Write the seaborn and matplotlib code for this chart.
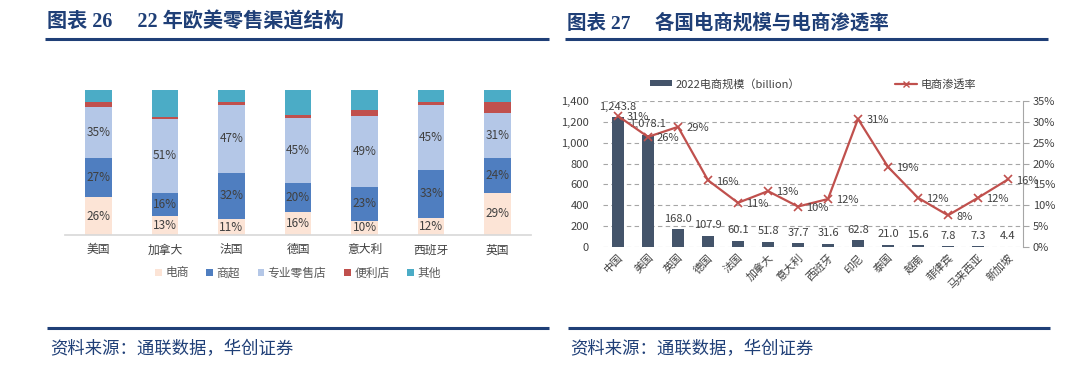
import matplotlib
matplotlib.use("Agg")
import matplotlib.pyplot as plt
import numpy as np
import pandas as pd
import seaborn as sns
from matplotlib.lines import Line2D
from matplotlib.patches import Patch
from matplotlib.ticker import FuncFormatter


# left chart: retail channel mix (%), bottom to top
CHANNEL_COUNTRIES = ["美国", "加拿大", "法国", "德国", "意大利", "西班牙", "英国"]
ECOMMERCE = [26, 13, 11, 16, 10, 12, 29]
SUPERMARKET = [27, 16, 32, 20, 23, 33, 24]
SPECIALTY = [35, 51, 47, 45, 49, 45, 31]
CONVENIENCE = [4, 1.5, 2, 2, 4, 2, 8]
OTHER = [8, 18.5, 8, 17, 14, 8, 8]
CHANNEL_NAMES = ["电商", "商超", "专业零售店", "便利店", "其他"]
CHANNEL_COLORS = ["#FCE4D6", "#4F7EC0", "#B4C7E7", "#C0504D", "#4BACC6"]
LABELLED_CHANNELS = ["电商", "商超", "专业零售店"]

# right chart: e-commerce size (billion) and penetration (%)
MARKETS = ["中国", "美国", "英国", "德国", "法国", "加拿大", "意大利", "西班牙",
           "印尼", "泰国", "越南", "菲律宾", "马来西亚", "新加坡"]
MARKET_SIZE = [1243.8, 1078.1, 168.0, 107.9, 60.1, 51.8, 37.7, 31.6,
               62.8, 21.0, 15.6, 7.8, 7.3, 4.4]
PENETRATION = [31.4, 26.4, 28.8, 16.0, 10.6, 13.4, 9.7, 11.5,
               30.7, 19.2, 11.8, 7.6, 11.8, 16.2]
SIZE_LABEL = "2022电商规模（billion）"
RATE_LABEL = "电商渗透率"

NAVY = "#1F3F77"
TEXT = "#404040"
GRAY = "#A6A6A6"

sns.set_theme(style="white")
plt.rcParams["font.family"] = ["Noto Sans CJK SC", "DejaVu Sans"]
plt.rcParams["axes.unicode_minus"] = False

fig = plt.figure(figsize=(10.8, 3.75), dpi=100)
W, H = 1080, 375


def px_axes(x0, y_top, x1, y_bottom):
    return fig.add_axes([x0 / W, 1 - y_bottom / H, (x1 - x0) / W, (y_bottom - y_top) / H])


# ---------- left: stacked channel structure ----------
ax1 = px_axes(65, 90, 531, 235)
shares = pd.DataFrame({"country": CHANNEL_COUNTRIES, "电商": ECOMMERCE, "商超": SUPERMARKET,
                       "专业零售店": SPECIALTY, "便利店": CONVENIENCE, "其他": OTHER})
cum = shares[CHANNEL_NAMES].cumsum(axis=1)
# draw cumulative totals tallest first so each layer shows as a stacked segment
for name, color in reversed(list(zip(CHANNEL_NAMES, CHANNEL_COLORS))):
    sns.barplot(x=shares["country"], y=cum[name], color=color, width=0.4, saturation=1,
                errorbar=None, linewidth=0, ax=ax1)

for name in LABELLED_CHANNELS:
    for i, (top, val) in enumerate(zip(cum[name], shares[name])):
        ax1.text(i, top - val / 2, f"{val:.0f}%", ha="center", va="center", fontsize=8.5, color=TEXT)

ax1.set_xlim(-0.5, len(CHANNEL_COUNTRIES) - 0.5)
ax1.set_ylim(0, 100)
ax1.set_xlabel("")
ax1.set_ylabel("")
ax1.set_yticks([])
for side in ["top", "left", "right"]:
    ax1.spines[side].set_visible(False)
ax1.spines["bottom"].set_color("#D9D9D9")
ax1.tick_params(axis="x", length=0, pad=6, labelsize=8.5, labelcolor=TEXT)

handles = [Patch(facecolor=c, edgecolor="none") for c in CHANNEL_COLORS]
leg1 = ax1.legend(handles, CHANNEL_NAMES, loc="center", bbox_to_anchor=(0.5, -0.262), ncol=5,
                  frameon=False, fontsize=8.5, handlelength=0.55, handleheight=0.55,
                  handletextpad=0.3, columnspacing=1.5)
for t in leg1.get_texts():
    t.set_color("#595959")

# ---------- right: size bars + penetration line ----------
ax2 = px_axes(603, 101, 1023, 247)
sns.barplot(x=MARKETS, y=MARKET_SIZE, color="#44546A", width=0.37, saturation=1,
            errorbar=None, linewidth=0, ax=ax2)
ax2.set_ylim(0, 1400)
ax2.set_yticks(range(0, 1401, 200))
ax2.yaxis.set_major_formatter(FuncFormatter(lambda v, _: f"{v:,.0f}"))
ax2.set_axisbelow(True)
ax2.yaxis.grid(True, linestyle=(0, (4, 3)), color=GRAY, linewidth=0.8)
ax2.xaxis.grid(False)
for side in ax2.spines:
    ax2.spines[side].set_visible(False)
ax2.set_xlabel("")
ax2.set_ylabel("")
ax2.tick_params(axis="y", length=0, pad=10, labelsize=8, labelcolor=TEXT)
ax2.tick_params(axis="x", length=0, pad=4, labelsize=7.8, labelcolor=TEXT)
ax2.set_xticks(range(len(MARKETS)))
ax2.set_xticklabels(MARKETS, rotation=45, ha="right", va="top", rotation_mode="anchor")

for i, v in enumerate(MARKET_SIZE):
    ax2.annotate(f"{v:,.1f}", (i, v), xytext=(0, 4), textcoords="offset points",
                 ha="center", va="bottom", fontsize=8, color=TEXT)

ax3 = ax2.twinx()
sns.lineplot(x=np.arange(len(MARKETS)), y=PENETRATION, color="#C0504D", linewidth=1.6,
             marker="x", markersize=6, markeredgewidth=1.2, markeredgecolor="#C0504D",
             legend=False, ax=ax3)
for i, v in enumerate(PENETRATION):
    ax3.annotate(f"{v:.0f}%", (i, v), xytext=(6, -1), textcoords="offset points",
                 ha="left", va="center", fontsize=8, color=TEXT)
ax3.set_ylim(0, 35)
ax3.set_yticks(range(0, 36, 5))
ax3.yaxis.set_major_formatter(FuncFormatter(lambda v, _: f"{v:.0f}%"))
for side in ["top", "left", "bottom"]:
    ax3.spines[side].set_visible(False)
ax3.spines["right"].set_color(GRAY)
ax3.spines["right"].set_linewidth(0.8)
ax3.tick_params(axis="y", direction="out", length=4, width=0.8, color=GRAY, pad=3,
                labelsize=8, labelcolor=TEXT)
ax3.set_ylabel("")
ax2.set_xlim(-0.5, len(MARKETS) - 0.5)

leg_handles = [Patch(facecolor="#44546A", edgecolor="none"),
               Line2D([], [], color="#C0504D", linewidth=1.6, marker="x", markersize=5,
                      markeredgewidth=1.0)]
leg2 = ax2.legend(leg_handles, [SIZE_LABEL, RATE_LABEL], loc="center", bbox_to_anchor=(0.5, 1.116),
                  ncol=2, frameon=False, fontsize=8, handlelength=2.0, handleheight=0.45,
                  handletextpad=0.3, columnspacing=8.5)
for t in leg2.get_texts():
    t.set_color(TEXT)

# ---------- titles, rules, sources ----------
title_font = ["Liberation Serif", "Noto Sans CJK SC"]
fig.text(47 / W, 1 - 23 / H, "图表 26     22 年欧美零售渠道结构", fontsize=14.5, fontweight="bold",
         color=NAVY, family=title_font, va="center", ha="left")
fig.text(567 / W, 1 - 23 / H, "图表 27     各国电商规模与电商渗透率", fontsize=14, fontweight="bold",
         color=NAVY, family=title_font, va="center", ha="left")

for x0, x1, y in [(45, 549, 39), (565, 1048, 39), (47, 549, 328), (568, 1050, 328)]:
    fig.add_artist(Line2D([x0 / W, x1 / W], [1 - y / H, 1 - y / H], transform=fig.transFigure,
                          color=NAVY, linewidth=2.2, solid_capstyle="butt"))

for x0 in [50, 570]:
    fig.text(x0 / W, 1 - 349 / H, "资料来源：通联数据，华创证券", fontsize=12.5, style="italic",
             color=NAVY, va="center", ha="left")

fig.savefig("out.png", dpi=100, facecolor="white")
